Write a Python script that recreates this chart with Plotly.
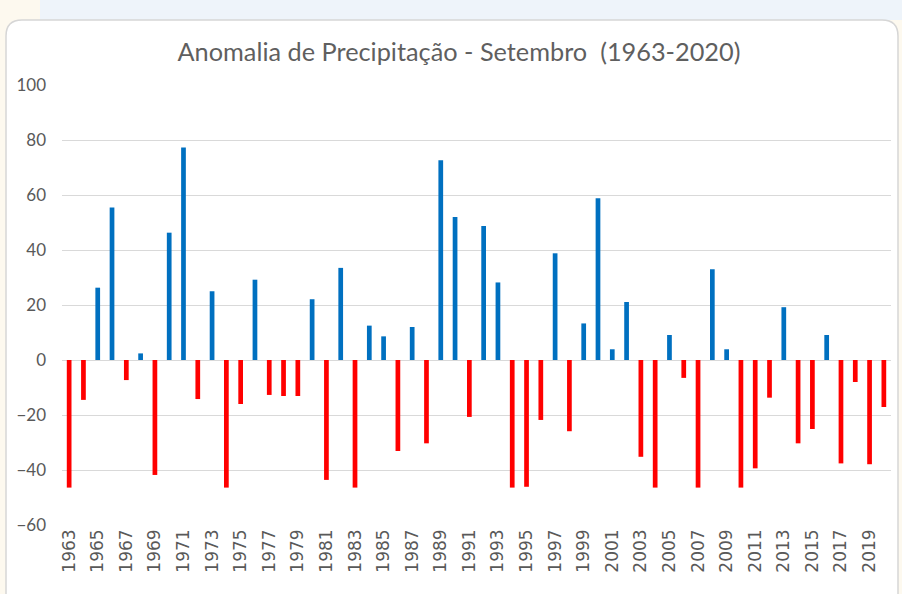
import plotly.graph_objects as go

years = [str(y) for y in range(1963, 2021)]
anomalies = [
    -46.4, -14.5, 26.3, 55.5, -7.3, 2.4, -41.8, 46.3, 77.3, -14.2,
    25.0, -46.4, -16.0, 29.2, -12.7, -13.1, -13.1, 22.1, -43.6, 33.5,
    -46.4, 12.5, 8.6, -33.1, 12.0, -30.3, 72.6, 52.0, -20.7, 48.7,
    28.2, -46.4, -46.1, -21.8, 38.8, -25.9, 13.3, 58.8, 3.9, 21.1,
    -35.2, -46.4, 9.1, -6.5, -46.4, 33.0, 3.9, -46.4, -39.4, -13.7,
    19.2, -30.3, -25.1, 9.1, -37.6, -8.0, -37.9, -17.1,
]
y_ticks = [-60, -40, -20, 0, 20, 40, 60, 80, 100]
x_tick_labels = years[::2]

POS = "#0070C0"
NEG = "#FF0000"
colors = [POS if v >= 0 else NEG for v in anomalies]

W, H = 902, 594
L, R, T, B = 62, 891, 85, 525


def px_x(px):
    return (px - L) / (R - L)


def px_y(py):
    return (B - py) / (B - T)


fig = go.Figure(
    go.Bar(x=years, y=anomalies, marker=dict(color=colors, line=dict(width=0)))
)

shapes = []
shapes.append(dict(type="rect", xref="paper", yref="paper",
                   x0=px_x(40), x1=px_x(W), y0=px_y(20), y1=px_y(0),
                   fillcolor="#eef4fa", line=dict(width=0), layer="below"))
x0, x1, y0, y1 = px_x(6), px_x(898), px_y(610), px_y(20)
rx = 16 / (R - L)
ry = 16 / (B - T)
path = (f"M {x0+rx},{y1} L {x1-rx},{y1} Q {x1},{y1} {x1},{y1-ry} "
        f"L {x1},{y0+ry} Q {x1},{y0} {x1-rx},{y0} L {x0+rx},{y0} "
        f"Q {x0},{y0} {x0},{y0+ry} L {x0},{y1-ry} Q {x0},{y1} {x0+rx},{y1} Z")
shapes.append(dict(type="path", xref="paper", yref="paper", path=path,
                   fillcolor="white", line=dict(color="#d6d6d6", width=1.5),
                   layer="below"))

fig.update_layout(
    width=W, height=H,
    margin=dict(l=L, r=W - R, t=T, b=H - B, pad=0),
    paper_bgcolor="#fdf9ef",
    plot_bgcolor="rgba(0,0,0,0)",
    shapes=shapes,
    bargap=0.67,
    showlegend=False,
    title=dict(text="Anomalia de Precipitação - Setembro  (1963-2020)",
               x=459 / W, xanchor="center", y=1 - 52 / H, yanchor="middle",
               font=dict(family="Lato", size=25.3, color="#5f5f5f")),
    xaxis=dict(type="category", tickmode="array", tickvals=x_tick_labels,
               ticktext=x_tick_labels, tickangle=-90,
               tickfont=dict(family="DejaVu Sans", size=17, color="#595959"),
               showgrid=False, showline=False, ticks="", zeroline=False,
               automargin=False),
    yaxis=dict(range=[-60, 100], tickvals=y_ticks, ticks="",
               tickfont=dict(family="Lato", size=17, color="#595959"),
               showgrid=True, gridcolor="#d9d9d9", gridwidth=1,
               zeroline=True, zerolinecolor="#d9d9d9", zerolinewidth=1,
               showline=False, ticklabelstandoff=15, automargin=False),
)

fig.write_html("out.html",
               config={"displayModeBar": False},
               post_script="document.body.style.margin='0';"
                           "document.body.style.overflow='hidden';")
